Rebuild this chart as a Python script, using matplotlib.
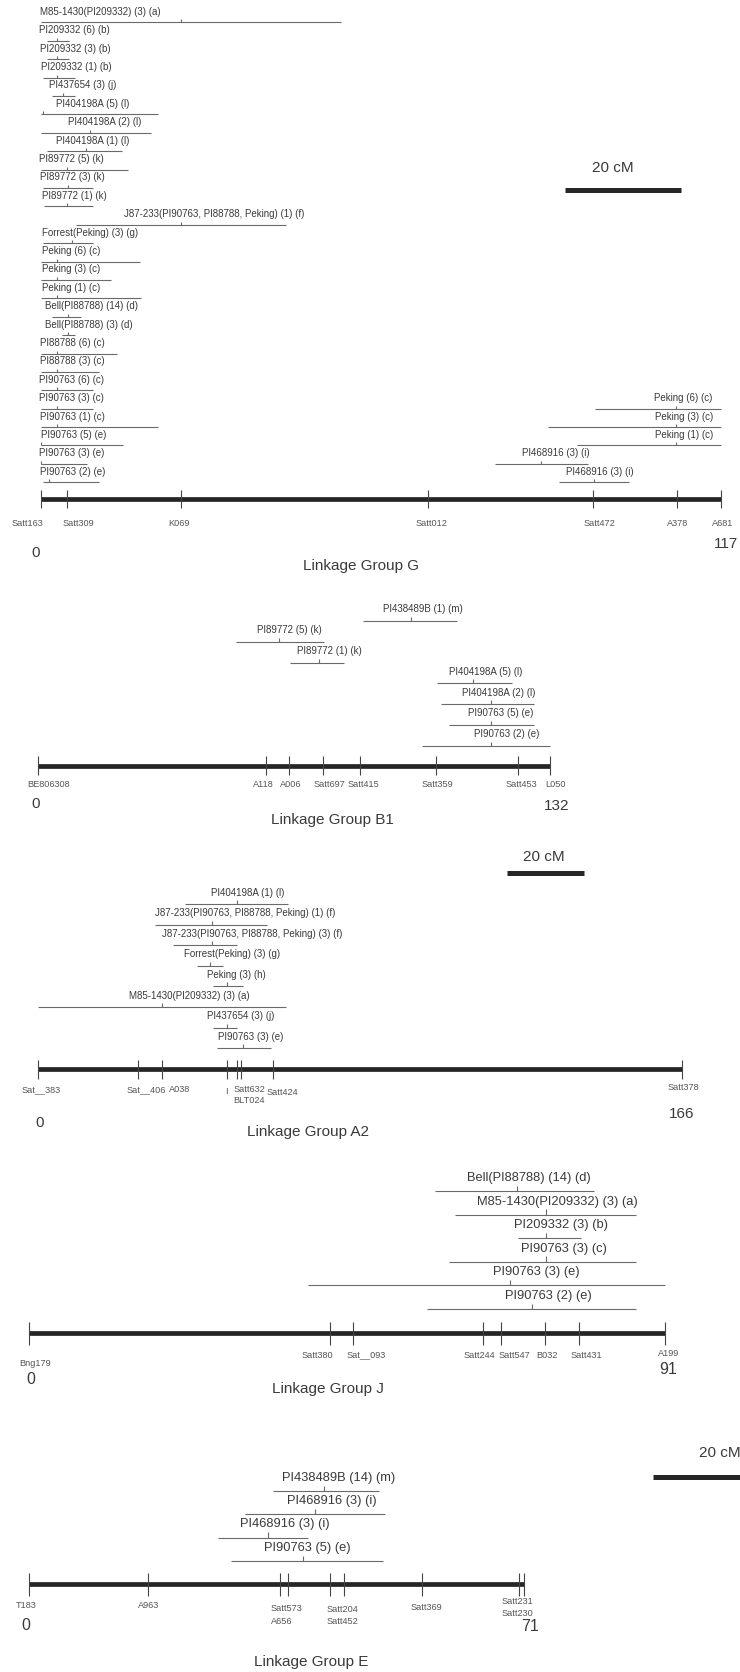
import matplotlib
matplotlib.use("Agg")
import matplotlib.pyplot as plt

plt.rcParams['font.family'] = ['Liberation Sans', 'DejaVu Sans']

W, H = 740, 1672

# ---------------- Linkage group G ----------------
g_length = 117
g_markers = ["Satt163", "Satt309", "K069", "Satt012", "Satt472", "A378", "A681"]
g_marker_pos = [0, 4.5, 24.1, 66.6, 94.9, 109.5, 117]
g_qtl = ["M85-1430(PI209332) (3) (a)", "PI209332 (6) (b)", "PI209332 (3) (b)",
         "PI209332 (1) (b)", "PI437654 (3) (j)", "PI404198A (5) (l)",
         "PI404198A (2) (l)", "PI404198A (1) (l)", "PI89772 (5) (k)",
         "PI89772 (3) (k)", "PI89772 (1) (k)",
         "J87-233(PI90763, PI88788, Peking) (1) (f)", "Forrest(Peking) (3) (g)",
         "Peking (6) (c)", "Peking (3) (c)", "Peking (1) (c)",
         "Bell(PI88788) (14) (d)", "Bell(PI88788) (3) (d)", "PI88788 (6) (c)",
         "PI88788 (3) (c)", "PI90763 (6) (c)", "PI90763 (3) (c)",
         "PI90763 (1) (c)", "PI90763 (5) (e)", "PI90763 (3) (e)",
         "PI90763 (2) (e)",
         "Peking (6) (c)", "Peking (3) (c)", "Peking (1) (c)",
         "PI468916 (3) (i)", "PI468916 (3) (i)"]
g_start = [0, 1.0, 1.0, 0.3, 1.9, 0, 0, 1.0, 0, 0.3, 0.6, 6.0, 0.4, 0, 0, 0,
           1.9, 3.6, 0, 0, 0, 0, 0, 0, 0, 0.4, 95.4, 87.3, 92.3, 78.1, 89.2]
g_end = [51.6, 4.9, 4.9, 5.9, 5.8, 20.1, 19.0, 13.9, 15.0, 8.9, 8.9, 42.2, 8.9,
         17.0, 12.0, 17.2, 6.9, 5.8, 13.1, 10.0, 8.9, 8.9, 20.1, 14.1, 8.0, 10.0,
         117, 117, 117, 94.2, 101.2]
g_peak = [24.1, 2.7, 2.7, 2.8, 3.8, 0.4, 8.5, 7.7, 4.4, 4.6, 4.4, 24.1, 5.3,
          2.7, 2.7, 2.7, 4.6, 4.6, 2.7, 2.7, 2.7, 2.7, 2.7, 0, 0, 1.4,
          109.2, 109.2, 109.2, 86.1, 95.2]

# ---------------- Linkage group B1 ----------------
b1_length = 132
b1_markers = ["BE806308", "A118", "A006", "Satt697", "Satt415", "Satt359",
              "Satt453", "L050"]
b1_marker_pos = [0, 58.8, 64.8, 73.4, 83.0, 102.6, 123.8, 132]
b1_qtl = ["PI438489B (1) (m)", "PI89772 (5) (k)", "PI89772 (1) (k)",
          "PI404198A (5) (l)", "PI404198A (2) (l)", "PI90763 (5) (e)",
          "PI90763 (2) (e)"]
b1_start = [83.7, 51.0, 65.0, 102.8, 103.9, 106.0, 98.9]
b1_end = [108.1, 73.8, 78.9, 122.1, 128.0, 128.0, 132.0]
b1_peak = [96.2, 62.3, 72.5, 112.2, 116.7, 116.7, 116.8]

# ---------------- Linkage group A2 ----------------
a2_length = 166
a2_markers = ["Sat__383", "Sat__406", "A038", "I", "Satt632", "BLT024",
              "Satt424", "Satt378"]
a2_marker_pos = [0, 25.8, 32.1, 48.7, 51.4, 52.3, 60.7, 166]
a2_qtl = ["PI404198A (1) (l)",
          "J87-233(PI90763, PI88788, Peking) (1) (f)",
          "J87-233(PI90763, PI88788, Peking) (3) (f)",
          "Forrest(Peking) (3) (g)", "Peking (3) (h)",
          "M85-1430(PI209332) (3) (a)", "PI437654 (3) (j)", "PI90763 (3) (e)"]
a2_start = [38.0, 30.2, 34.9, 41.0, 45.1, 0.2, 45.1, 46.1]
a2_end = [64.6, 59.0, 51.3, 47.8, 53.0, 63.9, 51.3, 60.1]
a2_peak = [51.4, 44.8, 44.8, 44.4, 48.9, 32.1, 48.7, 53.0]

# ---------------- Linkage group J ----------------
j_length = 91
j_markers = ["Bng179", "Satt380", "Sat__093", "Satt244", "Satt547", "B032",
             "Satt431", "A199"]
j_marker_pos = [0, 43.0, 46.4, 65.0, 67.5, 73.9, 78.7, 91]
j_qtl = ["Bell(PI88788) (14) (d)", "M85-1430(PI209332) (3) (a)",
         "PI209332 (3) (b)", "PI90763 (3) (c)", "PI90763 (3) (e)",
         "PI90763 (2) (e)"]
j_start = [58.1, 60.9, 70.0, 60.1, 39.9, 57.0]
j_end = [80.9, 86.8, 79.0, 86.8, 91.0, 86.8]
j_peak = [69.8, 74.0, 74.0, 74.0, 68.8, 72.0]

# ---------------- Linkage group E ----------------
e_length = 71
e_markers = ["T183", "A963", "Satt573", "A656", "Satt204", "Satt452",
             "Satt369", "Satt231", "Satt230"]
e_marker_pos = [0, 17.0, 35.9, 37.1, 43.1, 45.1, 56.3, 70.2, 71]
e_qtl = ["PI438489B (14) (m)", "PI468916 (3) (i)", "PI468916 (3) (i)",
         "PI90763 (5) (e)"]
e_start = [35.0, 31.0, 27.0, 28.9]
e_end = [50.1, 51.0, 40.0, 50.8]
e_peak = [42.3, 41.0, 34.2, 39.2]

# ---------------- layout ----------------
# each group: pixel band, bar row, origin x, px per cM, row gap/spacing
groups = [
    dict(name="G", length=g_length, markers=g_markers, mpos=g_marker_pos,
         qtl=g_qtl, start=g_start, end=g_end, peak=g_peak,
         band=(0, 590), bar=499.3, x0=41, scale=5.812,
         gap=17, spacing=18.4, nrows=26,
         rows=list(range(26)) + [21, 22, 23, 24, 25],
         label_x=[-0.2, -0.3, -0.2, -0.05, 1.4, 2.5, 4.7, 2.5, -0.3, -0.2, 0.1,
                  14.3, 0.1, 0.1, 0.1, 0.1, 0.7, 0.7, -0.2, -0.2, -0.3, -0.3,
                  -0.2, -0.05, -0.3, -0.2, 105.5, 105.6, 105.6, 82.7, 90.4],
         qfs=7.0, qdy=10.5, tick=8.8, peak_h=3.0,
         mlab=[(-2.3, -24, 'center'), (6.4, -24, 'center'), (23.7, -24, 'center'),
               (67.2, -24, 'center'), (96.0, -24, 'center'), (109.6, -24, 'center'),
               (117.3, -24, 'center')],
         mfs=6.6, zero=(-0.85, -53.7), end_lab=(117.8, -44.7), nfs=11,
         title_x=55.1, title_dy=-66.7),
    dict(name="B1", length=b1_length, markers=b1_markers, mpos=b1_marker_pos,
         qtl=b1_qtl, start=b1_start, end=b1_end, peak=b1_peak,
         band=(590, 845), bar=765.7, x0=37.7, scale=3.881,
         gap=20, spacing=20.8, nrows=7, rows=list(range(7)),
         label_x=[89.0, 56.4, 66.7, 106.0, 109.3, 110.8, 112.4],
         qfs=7.0, qdy=11.5, tick=9.3, peak_h=4.0,
         mlab=[(2.7, -18.6, 'center'), (58.2, -18.6, 'center'),
               (65.2, -18.6, 'center'), (75.1, -18.6, 'center'),
               (84.0, -18.6, 'center'), (102.9, -18.6, 'center'),
               (124.5, -18.6, 'center'), (133.4, -18.6, 'center')],
         mfs=6.6, zero=(-0.5, -38.3), end_lab=(133.8, -40.3), nfs=11,
         title_x=76.0, title_dy=-54.3),
    dict(name="A2", length=a2_length, markers=a2_markers, mpos=a2_marker_pos,
         qtl=a2_qtl, start=a2_start, end=a2_end, peak=a2_peak,
         band=(845, 1140), bar=1069.3, x0=37.7, scale=3.88,
         gap=21, spacing=20.6, nrows=8, rows=list(range(8)),
         label_x=[44.6, 30.2, 32.1, 37.7, 43.7, 23.6, 43.7, 46.5],
         qfs=7.0, qdy=11.5, tick=9.3, peak_h=4.0,
         mlab=[(0.85, -20.7, 'center'), (28.0, -20.7, 'center'),
               (36.5, -20.7, 'center'), (48.5, -22.7, 'center'),
               (50.4, -20.7, 'left'), (50.4, -31.4, 'left'),
               (63.1, -23.0, 'center'), (166.4, -18.4, 'center')],
         mfs=6.6, zero=(0.4, -54), end_lab=(166.0, -45), nfs=11,
         title_x=69.7, title_dy=-62.4),
    dict(name="J", length=j_length, markers=j_markers, mpos=j_marker_pos,
         qtl=j_qtl, start=j_start, end=j_end, peak=j_peak,
         band=(1140, 1430), bar=1333.3, x0=29.3, scale=6.985,
         gap=24.3, spacing=23.6, nrows=6, rows=list(range(6)),
         label_x=[62.6, 64.1, 69.4, 70.4, 66.4, 68.1],
         qfs=9.3, qdy=13.0, tick=11.3, peak_h=5.5,
         mlab=[(0.8, -30, 'center'), (41.2, -21.7, 'center'),
               (48.2, -21.7, 'center'), (64.5, -21.7, 'center'),
               (69.4, -21.7, 'center'), (74.1, -21.7, 'center'),
               (79.8, -21.7, 'center'), (91.5, -20.7, 'center')],
         mfs=6.6, zero=(0.2, -46), end_lab=(91.4, -36.7), nfs=11.5,
         title_x=42.8, title_dy=-56.0),
    dict(name="E", length=e_length, markers=e_markers, mpos=e_marker_pos,
         qtl=e_qtl, start=e_start, end=e_end, peak=e_peak,
         band=(1430, 1672), bar=1584.3, x0=29.3, scale=6.972,
         gap=23.3, spacing=23.3, nrows=4, rows=list(range(4)),
         label_x=[36.3, 37.0, 30.2, 33.6],
         qfs=9.3, qdy=13.5, tick=11.3, peak_h=5.5,
         mlab=[(-0.4, -21.4, 'center'), (17.1, -21.4, 'center'),
               (34.6, -24.0, 'left'), (34.6, -37.4, 'left'),
               (42.7, -24.7, 'left'), (42.7, -37.7, 'left'),
               (56.9, -23.4, 'center'), (67.8, -17.4, 'left'),
               (67.8, -29.0, 'left')],
         mfs=6.6, zero=(-0.5, -40.7), end_lab=(71.8, -42.4), nfs=11.5,
         title_x=40.5, title_dy=-77.4),
]

# scale bars (20 cM) drawn in the coordinates of the group that holds them
scale_bars = {"G": dict(x=90.2, y=309.3, tx=98.4, ty=330.8),
              "A2": dict(x=120.9, y=196.0, tx=130.4, ty=212.0),
              "E": dict(x=89.4, y=107.3, tx=99.1, ty=131.3)}
scale_len = 20

BAR_C = '#262626'
LINE_C = '#6a6a6a'
TEXT_C = '#3a3a3a'

fig = plt.figure(figsize=(W / 100, H / 100), dpi=100)
fig.patch.set_facecolor('white')

for g in groups:
    top, bot = g['band']
    ax = fig.add_axes([0, 1 - bot / H, 1, (bot - top) / H])
    ax.set_xlim(-g['x0'] / g['scale'], (W - g['x0']) / g['scale'])
    ax.set_ylim(g['bar'] - bot, g['bar'] - top)
    ax.axis('off')

    # chromosome bar with marker ticks
    ax.plot([0, g['length']], [0, 0], color=BAR_C, lw=3.4,
            solid_capstyle='butt', clip_on=False, zorder=3)
    ax.vlines(g['mpos'], -g['tick'], g['tick'], color='#444444', lw=0.8,
              clip_on=False, zorder=4)
    for name, (lx, dy, ha) in zip(g['markers'], g['mlab']):
        ax.text(lx, dy, name, ha=ha, va='center', fontsize=g['mfs'],
                color='#555555')

    # QTL confidence intervals with peak ticks
    for k, lab in enumerate(g['qtl']):
        row = g['rows'][k]
        y = g['gap'] + (g['nrows'] - 1 - row) * g['spacing']
        ax.hlines(y, g['start'][k], g['end'][k], color=LINE_C, lw=0.8,
                  clip_on=False)
        ax.vlines(g['peak'][k], y, y + g['peak_h'], color=LINE_C, lw=0.8,
                  clip_on=False)
        ax.text(g['label_x'][k], y + g['qdy'], lab, ha='left', va='center',
                fontsize=g['qfs'], color=TEXT_C)

    # length annotations and title
    zx, zy = g['zero']
    ax.text(zx, zy, "0", ha='center', va='center', fontsize=g['nfs'],
            color=TEXT_C)
    ex, ey = g['end_lab']
    ax.text(ex, ey, str(g['length']), ha='center', va='center',
            fontsize=g['nfs'], color=TEXT_C)
    ax.text(g['title_x'], g['title_dy'], "Linkage Group " + g['name'],
            ha='center', va='center', fontsize=11, color=TEXT_C)

    if g['name'] in scale_bars:
        sb = scale_bars[g['name']]
        ax.plot([sb['x'], sb['x'] + scale_len], [sb['y'], sb['y']],
                color=BAR_C, lw=3.6, solid_capstyle='butt', clip_on=False)
        ax.text(sb['tx'], sb['ty'], "20 cM", ha='center', va='center',
                fontsize=11, color=TEXT_C)

fig.savefig("out.png", dpi=100, facecolor='white')
